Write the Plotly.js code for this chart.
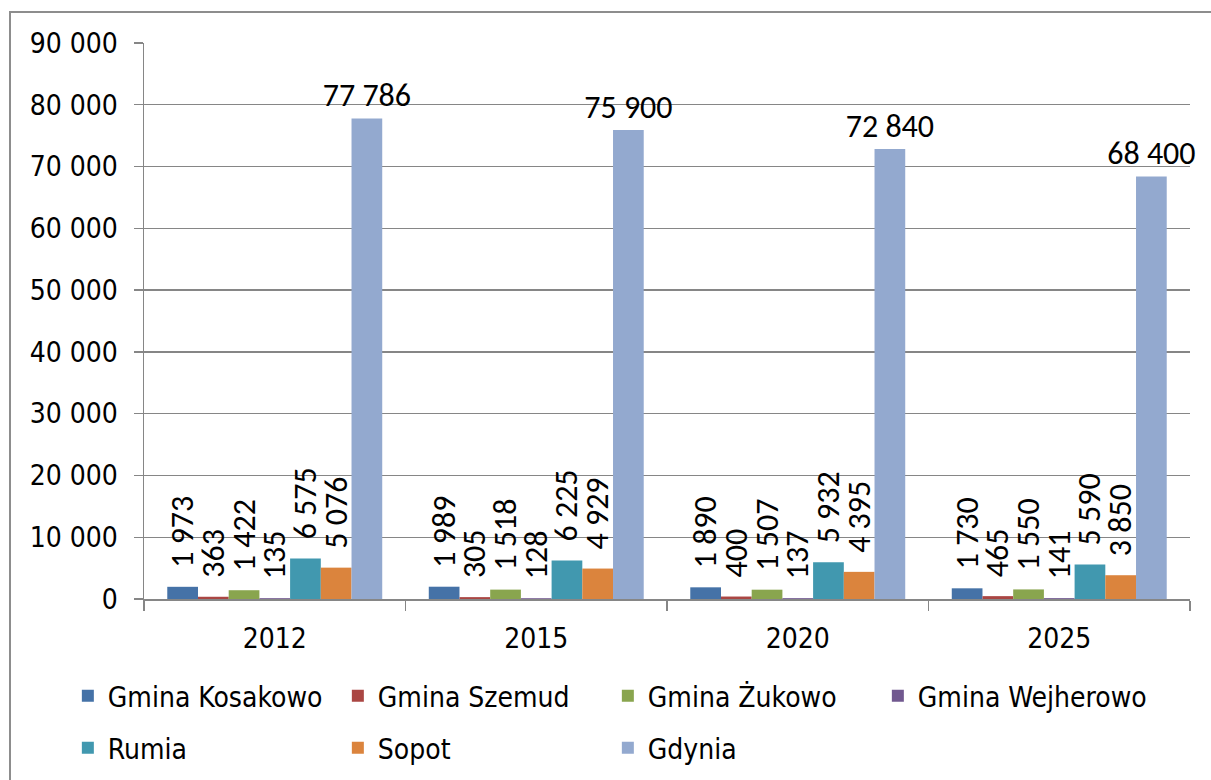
<!DOCTYPE html>
<html><head><meta charset="utf-8">
<script src="https://cdn.plot.ly/plotly-3.0.1.min.js"></script>
<style>
html,body{margin:0;padding:0;background:#fff;}
#wrap{position:relative;width:1211px;height:780px;overflow:hidden;}
#frame{position:absolute;left:9px;top:11px;width:1240px;height:820px;border:2px solid #8d8d8d;box-sizing:border-box;pointer-events:none;}
</style>
</head><body>
<div id="wrap"><div id="chart" style="width:1211px;height:780px;"></div><div id="frame"></div></div>
<script>
const years = ['2012', '2015', '2020', '2025'];
const seriesNames = ['Gmina Kosakowo', 'Gmina Szemud', 'Gmina Żukowo', 'Gmina Wejherowo', 'Rumia', 'Sopot', 'Gdynia'];
const kosakowo = [1973, 1989, 1890, 1730];
const szemud = [363, 305, 400, 465];
const zukowo = [1422, 1518, 1507, 1550];
const wejherowo = [135, 128, 137, 141];
const rumia = [6575, 6225, 5932, 5590];
const sopot = [5076, 4929, 4395, 3850];
const gdynia = [77786, 75900, 72840, 68400];
const colors = ['#4572A7', '#AA4643', '#89A54E', '#71588F', '#4198AF', '#DB843D', '#93A9CF'];

const seriesValues = [kosakowo, szemud, zukowo, wejherowo, rumia, sopot, gdynia];
const fmt = v => String(v).replace(/\B(?=(\d{3})+(?!\d))/g, ' ');

const axisFont = "'DejaVu Sans Condensed', 'Liberation Sans', sans-serif";
const labelFont = "Carlito, 'Liberation Sans', Arial, sans-serif";

const traces = seriesValues.map((vals, i) => ({
  type: 'bar',
  name: seriesNames[i],
  x: years,
  y: vals,
  text: vals.map(fmt),
  texttemplate: i === 6 ? '%{text}' : '\u2002%{text}',
  textposition: 'outside',
  textangle: i === 6 ? 0 : -90,
  constraintext: 'none',
  cliponaxis: false,
  textfont: {family: labelFont, size: 32, color: '#000'},
  marker: {color: colors[i], line: {width: 0}},
  legend: i < 4 ? 'legend' : 'legend2',
  hoverinfo: 'none'
}));

const legendCommon = {
  orientation: 'h',
  xanchor: 'left',
  yanchor: 'middle',
  font: {family: axisFont, size: 28, color: '#000'},
  entrywidth: 225,
  entrywidthmode: 'pixels',
  bgcolor: 'rgba(0,0,0,0)',
  borderwidth: 0,
  itemclick: false,
  itemdoubleclick: false
};

const layout = {
  width: 1211,
  height: 780,
  margin: {l: 144, r: 21, t: 43, b: 181, autoexpand: false},
  paper_bgcolor: '#fff',
  plot_bgcolor: '#fff',
  separators: ', ',
  barmode: 'group',
  bargap: 0.178,
  bargroupgap: 0,
  showlegend: true,
  font: {family: axisFont, size: 28, color: '#000'},
  xaxis: {
    type: 'category',
    showgrid: false,
    showline: true,
    linecolor: '#868686',
    linewidth: 1.5,
    ticks: 'outside',
    tickson: 'boundaries',
    ticklen: 10,
    tickcolor: '#868686',
    tickwidth: 1.5,
    ticklabelstandoff: 14,
    tickfont: {family: axisFont, size: 28, color: '#000'},
    fixedrange: true
  },
  yaxis: {
    range: [0, 90000],
    dtick: 10000,
    tickformat: ',d',
    showgrid: true,
    gridcolor: '#868686',
    gridwidth: 1.3,
    zeroline: false,
    showline: true,
    linecolor: '#868686',
    linewidth: 1.5,
    ticks: 'outside',
    ticklen: 9,
    tickcolor: '#868686',
    tickwidth: 1.3,
    ticklabelstandoff: 10,
    tickfont: {family: axisFont, size: 28, color: '#000'},
    fixedrange: true
  },
  legend: Object.assign({}, legendCommon, {x: -0.0728, y: -0.1745}),
  legend2: Object.assign({}, legendCommon, {x: -0.0728, y: -0.268})
};

Plotly.newPlot('chart', traces, layout, {displayModeBar: false, staticPlot: true});
</script>
</body></html>
